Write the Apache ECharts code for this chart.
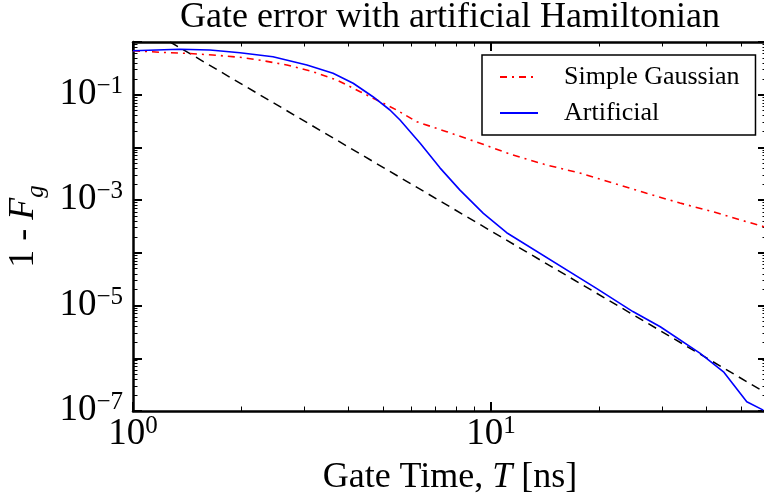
<!DOCTYPE html>
<html><head><meta charset="utf-8">
<script src="https://cdn.jsdelivr.net/npm/echarts@6/dist/echarts.min.js"></script>
<style>html,body{margin:0;padding:0;background:#fff}#c{width:764px;height:495px}</style>
</head><body><div id="c"></div>
<script>
// ---- data ----
const artificialT = [1.0, 1.35, 1.64, 1.99, 2.46, 3.06, 3.62, 4.12, 4.68, 5.22, 5.57, 6.34, 7.20, 8.19, 9.52, 11.06, 19.7, 24.9, 29.7, 38.4, 44.6, 51.8, 57.6];
const artificialV = [0.684, 0.727, 0.705, 0.627, 0.526, 0.366, 0.255, 0.165, 0.0916, 0.0513, 0.0331, 0.0120, 0.0041, 0.00155, 5.6e-4, 2.41e-4, 2.12e-5, 7.7e-6, 3.96e-6, 1.24e-6, 5.54e-7, 1.50e-7, 1.04e-7];
const gaussianT = [1.0, 1.19, 1.41, 1.67, 1.99, 2.31, 2.69, 3.18, 3.71, 4.31, 4.99, 5.45, 6.20, 7.52, 9.32, 11.5, 14.3, 17.7, 21.9, 27.2, 33.7, 41.7, 51.8, 57.9];
const gaussianV = [0.684, 0.638, 0.610, 0.567, 0.513, 0.442, 0.366, 0.273, 0.190, 0.114, 0.0696, 0.0513, 0.0307, 0.0199, 0.0120, 0.00718, 0.00464, 0.00327, 0.00211, 0.00135, 8.81e-4, 6.03e-4, 3.89e-4, 3.13e-4];
const referenceT = [1.27, 59];
const referenceV = [1.0, 2.14e-7];
const seriesNames = ['Simple Gaussian', 'Artificial'];
const xTickLabels = [1, 10];
const yTickLabels = [1e-1, 1e-3, 1e-5, 1e-7];
const xMajorTicks = [1, 10];
const xMinorTicks = [2, 3, 4, 5, 6, 7, 8, 9, 20, 30, 40, 50];
const yMajorTicks = [1e-7, 1e-6, 1e-5, 1e-4, 1e-3, 1e-2, 1e-1, 1];
const yMinorTicks = [];
for (let e = -7; e < 0; e++) for (let m = 2; m <= 9; m++) yMinorTicks.push(m * Math.pow(10, e));

const X_MIN = 1, X_MAX = 59, Y_MIN = 1e-7, Y_MAX = 1;
const FONT = "'Liberation Serif', 'DejaVu Serif', serif";

function zip(a, b) { return a.map((v, i) => [v, b[i]]); }
function powLabel(v) {
  const e = Math.round(Math.log10(v));
  return '{b|10}{s|' + String(e).replace('-', '\u2212') + '}';
}
const labelRich = {
  b: { fontSize: 37, fontFamily: FONT, color: '#000', lineHeight: 36, verticalAlign: 'bottom' },
  s: { fontSize: 25, fontFamily: FONT, color: '#000', lineHeight: 24, padding: [0, 0, 14, 0], verticalAlign: 'bottom' }
};

function axis(kind, pos, ticks, len, tickW, labels, showLine, extra) {
  const isX = kind === 'x';
  const a = {
    type: 'log', logBase: 10, gridIndex: 0, position: pos,
    min: isX ? X_MIN : Y_MIN, max: isX ? X_MAX : Y_MAX,
    axisLine: { show: showLine, onZero: false, lineStyle: { color: '#000', width: 2.5 } },
    axisTick: { show: true, inside: true, length: len, customValues: ticks, lineStyle: { color: '#000', width: tickW } },
    axisLabel: labels ? { show: true, customValues: labels, formatter: powLabel, rich: labelRich, margin: isX ? 6 : 10 } : { show: false },
    splitLine: { show: false }, minorTick: { show: false }, minorSplitLine: { show: false }
  };
  return Object.assign(a, extra || {});
}

const chart = echarts.init(document.getElementById('c'), null, { renderer: 'canvas' });
chart.setOption({
  animation: false,
  backgroundColor: '#fff',
  title: {
    text: 'Gate error with artificial Hamiltonian',
    left: 450, textAlign: 'center', top: 0, padding: 0,
    textStyle: { fontFamily: FONT, fontSize: 36, fontWeight: 'normal', color: '#000' }
  },
  grid: { left: 133, right: -3, top: 42, bottom: 84, containLabel: false, outerBoundsMode: 'none' },
  legend: {
    data: seriesNames, orient: 'vertical', left: 482, top: 55,
    padding: [9, 16, 9, 17], itemGap: 10, itemWidth: 38, itemHeight: 14,
    borderColor: '#000', borderWidth: 1.5, borderRadius: 0, backgroundColor: '#fff',
    itemStyle: { opacity: 0, borderWidth: 0 },
    textStyle: { fontFamily: FONT, fontSize: 26, color: '#000', lineHeight: 25, padding: [0, 0, 0, 21] }
  },
  xAxis: [
    axis('x', 'bottom', xMajorTicks, 9, 2, xTickLabels, true, {
      name: '{n|Gate Time, }{i|T}{n| [ns]}', nameLocation: 'middle', nameGap: 49,
      nameTextStyle: { rich: { n: { fontFamily: FONT, fontSize: 36, color: '#000' }, i: { fontFamily: FONT, fontSize: 36, fontStyle: 'italic', color: '#000' } } }
    }),
    axis('x', 'bottom', xMinorTicks, 4.5, 1, null, false),
    axis('x', 'top', xMajorTicks, 9, 2, null, true),
    axis('x', 'top', xMinorTicks, 4.5, 1, null, false)
  ],
  yAxis: [
    axis('y', 'left', yMajorTicks, 9, 2, yTickLabels, true, {
      name: '{n|1 - }{i|F}{g|g}', nameLocation: 'middle', nameGap: 76, nameRotate: 90,
      nameTextStyle: { rich: {
        n: { fontFamily: FONT, fontSize: 36, color: '#000', padding: [0, 0, 7, 0], verticalAlign: 'bottom' },
        i: { fontFamily: FONT, fontSize: 36, fontStyle: 'italic', color: '#000', padding: [0, 0, 7, 0], verticalAlign: 'bottom' },
        g: { fontFamily: FONT, fontSize: 25, fontStyle: 'italic', color: '#000', verticalAlign: 'bottom' }
      } }
    }),
    axis('y', 'left', yMinorTicks, 4.5, 1, null, false),
    axis('y', 'right', yMajorTicks, 9, 2, null, true),
    axis('y', 'right', yMinorTicks, 4.5, 1, null, false)
  ],
  series: [
    { name: 'Reference', type: 'line', data: zip(referenceT, referenceV), symbol: 'none', xAxisIndex: 0, yAxisIndex: 0,
      lineStyle: { color: '#000', width: 1.5, type: [9, 6] }, itemStyle: { color: '#000' }, z: 2, silent: true },
    { name: seriesNames[0], type: 'line', data: zip(gaussianT, gaussianV), symbol: 'none', xAxisIndex: 0, yAxisIndex: 0,
      lineStyle: { color: '#ff0000', width: 1.6, type: [7, 5, 2, 5] }, itemStyle: { color: '#ff0000' }, z: 3 },
    { name: seriesNames[1], type: 'line', data: zip(artificialT, artificialV), symbol: 'none', xAxisIndex: 0, yAxisIndex: 0,
      lineStyle: { color: '#0000ff', width: 1.6 }, itemStyle: { color: '#0000ff' }, z: 4 }
  ]
});
</script></body></html>
